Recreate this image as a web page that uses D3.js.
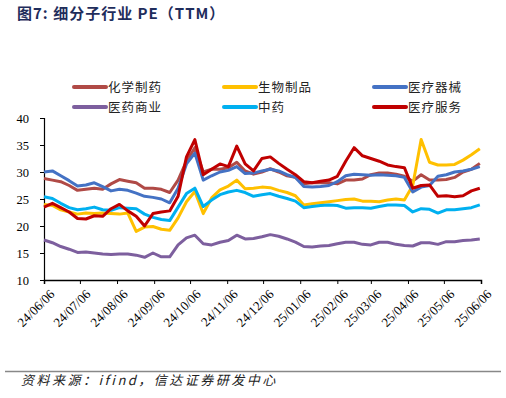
<!DOCTYPE html>
<html>
<head>
<meta charset="utf-8">
<script src="https://cdn.jsdelivr.net/npm/d3@7"></script>
<style>
  body { margin: 0; background: #fff; }
  svg { display: block; }
</style>
</head>
<body>
<div class="chart"></div>
<script>
// weekly readings, starting 2024-06-06
const startDate = new Date(2024, 5, 6)
const names = ["化学制药", "生物制品", "医疗器械", "医药商业", "中药", "医疗服务"]
const colors = ["#B04A46", "#FFC000", "#4472C4", "#7D5F9E", "#00B0F0", "#C00000"]

const chem = [28.8,28.5,28.2,27.5,26.6,26.8,27.0,26.8,27.8,28.6,28.3,28.0,27.0,27.0,26.8,26.2,28.5,32.0,34.5,30.0,30.5,30.5,30.8,31.8,30.2,29.6,30.0,30.6,30.0,29.3,29.0,27.8,28.0,28.0,28.0,27.8,28.5,28.5,28.7,29.5,29.8,29.8,29.6,29.2,28.3,29.5,28.5,28.5,28.6,29.0,30.0,30.5,31.6]
const bio = [24.0,23.8,23.0,22.6,22.2,22.4,22.3,22.4,22.3,22.2,22.4,19.0,19.8,19.9,19.4,19.2,21.5,24.5,26.4,22.3,25.2,26.7,27.4,28.5,26.9,27.0,27.2,27.1,26.6,26.2,25.6,23.9,24.1,24.3,24.5,24.7,24.9,25.0,24.6,24.6,24.5,24.8,25.0,24.8,27.5,36.0,31.8,31.3,31.3,31.4,32.2,33.2,34.3]
const device = [30.0,30.2,29.3,28.4,27.4,27.6,28.0,27.3,26.5,26.8,26.6,26.1,25.5,25.3,25.0,24.3,27.0,31.5,33.5,28.5,29.3,30.0,30.3,31.0,29.7,29.8,30.2,30.5,30.2,29.5,29.0,27.3,27.2,27.3,27.5,28.2,29.3,29.6,29.5,29.4,29.5,29.4,29.3,29.0,26.3,27.2,27.5,29.2,29.5,30.0,30.2,30.5,31.0]
const trade = [17.4,16.9,16.2,15.7,15.1,15.2,15.0,14.8,14.7,14.8,14.8,14.6,14.2,15.0,14.3,14.3,16.5,17.8,18.3,16.7,16.5,17.0,17.3,18.3,17.6,17.7,18.0,18.4,18.1,17.6,17.0,16.2,16.1,16.3,16.4,16.7,17.0,17.0,16.6,16.5,17.0,17.0,16.6,16.4,16.3,16.9,16.9,16.6,17.1,17.1,17.3,17.4,17.6]
const tcm = [25.4,25.1,24.2,23.4,23.0,23.2,23.5,23.0,22.9,23.4,23.3,23.2,22.2,21.6,21.2,21.0,23.5,26.0,27.0,23.6,24.8,25.8,26.3,26.6,26.2,25.5,25.8,26.0,25.5,25.1,24.6,23.4,23.6,23.8,23.9,23.8,23.3,23.4,23.4,23.3,23.6,23.9,23.9,23.8,22.6,23.2,23.1,22.4,23.0,23.0,23.2,23.4,23.9]
const service = [23.5,24.2,23.4,22.6,21.4,21.3,21.9,21.8,23.2,24.0,22.8,21.8,20.0,22.3,22.6,22.8,25.5,32.8,36.0,29.5,30.5,31.5,31.0,34.8,31.5,30.2,32.5,32.8,31.6,30.5,29.5,28.2,28.0,28.3,28.5,29.2,32.0,34.5,33.0,32.5,32.0,31.3,31.0,30.8,27.0,27.5,27.6,25.5,25.6,25.4,25.6,26.5,27.0]

const series = [chem, bio, device, trade, tcm, service]
const yTicks = [10, 15, 20, 25, 30, 35, 40]

const W = 506, H = 398
const mLeft = 44, mRight = 481, mTop = 118, mBottom = 280

const dates = chem.map((d, i) => d3.timeDay.offset(startDate, 7 * i))
const xTicks = d3.range(13).map(m => new Date(2024, 5 + m, 6))

const svg = d3.select(".chart").append("svg")
  .attr("width", W).attr("height", H)

const x = d3.scaleTime()
  .domain([startDate, new Date(2025, 5, 6)])
  .range([mLeft, mRight])
const y = d3.scaleLinear().domain([10, 40]).range([mBottom, mTop])

// title
svg.append("text")
  .attr("x", 17).attr("y", 19)
  .attr("fill", "#1F2D5C")
  .style("font-family", "'Noto Sans CJK SC', sans-serif")
  .style("font-weight", "bold")
  .style("font-size", "15px")
  .style("letter-spacing", "1px")
  .text("图7: 细分子行业 PE（TTM）")

// legend
const legend = svg.append("g")
names.forEach((n, i) => {
  const lx = 74 + (i % 3) * 150
  const ly = 87 + Math.floor(i / 3) * 20
  legend.append("line")
    .attr("x1", lx).attr("x2", lx + 32)
    .attr("y1", ly).attr("y2", ly)
    .attr("stroke", colors[i]).attr("stroke-width", 4)
    .attr("stroke-linecap", "round")
  legend.append("text")
    .attr("x", lx + 34).attr("y", ly + 4.5)
    .style("font-family", "'Noto Sans CJK SC', sans-serif")
    .style("font-size", "12.5px")
    .style("letter-spacing", "1px")
    .attr("fill", "#222")
    .text(n)
})

// axes
const yAxis = svg.append("g")
  .attr("transform", `translate(${mLeft},0)`)
  .call(d3.axisLeft(y).tickValues(yTicks).tickSize(4).tickPadding(11))
yAxis.select(".domain").attr("stroke", "#000").attr("stroke-width", 1.2)
yAxis.selectAll("text")
  .style("font-family", "'Liberation Serif', serif")
  .style("font-size", "12.5px").attr("fill", "#000")

const xAxis = svg.append("g")
  .attr("transform", `translate(0,${mBottom})`)
  .call(d3.axisBottom(x).tickValues(xTicks).tickSize(4).tickFormat(d3.timeFormat("%y/%m/%d")))
xAxis.select(".domain").attr("stroke", "#000").attr("stroke-width", 1.5)
xAxis.selectAll("text")
  .style("font-family", "'Liberation Serif', serif")
  .style("font-size", "13px").attr("fill", "#000")
  .attr("text-anchor", "end")
  .attr("dx", 0).attr("dy", 0)
  .attr("transform", "translate(6,10) rotate(-45)")

// lines
const line = d3.line()
  .x((d, i) => x(dates[i]))
  .y(d => y(d))

svg.append("g").selectAll("path")
  .data(series)
  .join("path")
  .attr("d", line)
  .attr("fill", "none")
  .attr("stroke", (d, i) => colors[i])
  .attr("stroke-width", 3)
  .attr("stroke-linejoin", "round")

// footer
svg.append("line")
  .attr("x1", 5).attr("x2", 501)
  .attr("y1", 371.5).attr("y2", 371.5)
  .attr("stroke", "#888").attr("stroke-width", 1.5)
svg.append("text")
  .attr("x", 21).attr("y", 385)
  .style("font-family", "'Noto Sans CJK SC', sans-serif")
  .style("font-size", "13px")
  .style("font-style", "italic")
  .style("letter-spacing", "2.5px")
  .attr("fill", "#222")
  .text("资料来源：ifind，信达证券研发中心")
</script>
</body>
</html>
